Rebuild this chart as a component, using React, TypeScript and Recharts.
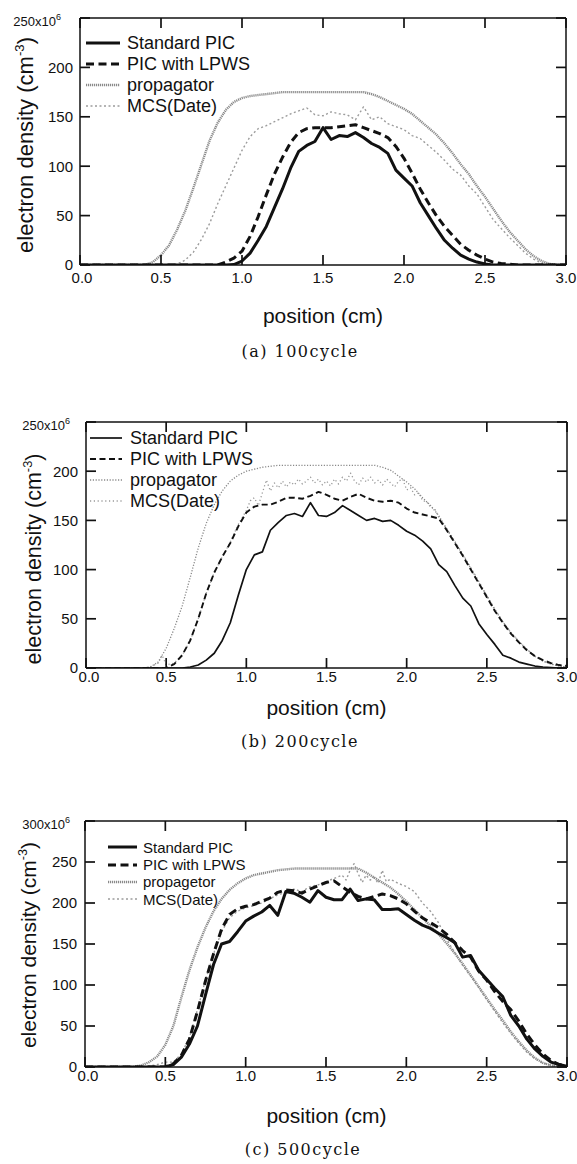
import React from "react";
import { LineChart, Line, XAxis, YAxis, Legend } from "recharts";

const FONT = '"Liberation Sans", Arial, Helvetica, sans-serif';
const SERIF = '"DejaVu Serif", serif';
const INK = "#111";
const TICK_LEN = 10;

// positions (cm) shared by the PIC / propagator curves
const X_GRID = [
  0, 0.05, 0.1, 0.15, 0.2, 0.25, 0.3, 0.35, 0.4, 0.45, 0.5, 0.55, 0.6, 0.65, 0.7, 0.75, 0.8, 0.85, 0.9, 0.95,
  1, 1.05, 1.1, 1.15, 1.2, 1.25, 1.3, 1.35, 1.4, 1.45, 1.5, 1.55, 1.6, 1.65, 1.7, 1.75, 1.8, 1.85, 1.9, 1.95,
  2, 2.05, 2.1, 2.15, 2.2, 2.25, 2.3, 2.35, 2.4, 2.45, 2.5, 2.55, 2.6, 2.65, 2.7, 2.75, 2.8, 2.85, 2.9, 2.95, 3,
];
const X_TICKS = [0, 0.5, 1, 1.5, 2, 2.5, 3];
const Y_TICKS_250 = [0, 50, 100, 150, 200, 250];
const Y_TICKS_300 = [0, 50, 100, 150, 200, 250, 300];

// (a) 100cycle, values in 1e6 cm^-3
const A_STD = [
  0, 0, 0, 0, 0, 0, 0, 0, 0, 0, 0, 0, 0, 0, 0, 0, 0, 0, 0, 0.5,
  4, 12, 25, 39, 58, 77, 98, 115, 121, 125, 139, 127, 131, 130, 134, 129, 123, 119, 113, 96,
  88, 80, 63, 50, 37, 25, 17, 10, 6, 3, 1, 0, 0, 0, 0, 0, 0, 0, 0, 0, 0,
];
const A_LPWS = [
  0, 0, 0, 0, 0, 0, 0, 0, 0, 0, 0, 0, 0, 0, 0, 0, 0, 0, 3, 7,
  14, 29, 49, 71, 92, 109, 124, 134, 138, 139, 139, 139, 140, 141, 142, 139, 136, 133, 129, 120,
  108, 93, 77, 63, 50, 39, 30, 21, 15, 10, 6, 3, 1.5, 1, 0, 0, 0, 0, 0, 0, 0,
];
const A_PROP = [
  0, 0, 0, 0, 0, 0, 0, 0, 0, 3, 10, 20, 36, 55, 78, 102, 126, 144, 157, 165,
  169, 171, 172, 173, 174, 175, 175, 175, 175, 175, 175, 175, 175, 175, 175, 175, 173, 170, 166, 162,
  158, 153, 146, 139, 132, 123, 113, 102, 92, 80, 69, 57, 45, 34, 25, 16, 9, 4, 1, 0, 0,
];
const A_MCS = [
  0, 0, 0, 0, 0, 0, 0, 0, 0, 0, 0, 0, 1, 5, 13, 26, 42, 62, 80, 98,
  116, 130, 138, 141, 145, 149, 153, 156, 159, 152, 151, 155, 153, 152, 147, 160, 147, 150, 143, 140,
  137, 131, 128, 121, 114, 106, 97, 91, 80, 72, 59, 46, 37, 28, 20, 12, 6, 2, 0, 0, 0,
];

// (b) 200cycle
const B_STD = [
  0, 0, 0, 0, 0, 0, 0, 0, 0, 0, 0, 0, 0, 1, 3, 8, 15, 28, 46, 74,
  100, 115, 118, 140, 148, 155, 157, 154, 168, 155, 154, 158, 165, 160, 155, 150, 152, 149, 150, 145,
  139, 135, 129, 121, 105, 98, 84, 71, 63, 45, 34, 24, 13, 10, 6, 4, 2, 1, 0.5, 0, 0,
];
const B_LPWS = [
  0, 0, 0, 0, 0, 0, 0, 0, 0, 0, 0, 4, 13, 28, 50, 76, 97, 113, 127, 144,
  158, 164, 166, 166, 169, 173, 173, 172, 175, 179, 176, 172, 170, 174, 177, 173, 170, 169, 170, 168,
  162, 158, 156, 154, 152, 140, 127, 114, 100, 86, 72, 58, 46, 35, 26, 18, 12, 8, 5, 3, 2,
];
const B_PROP = [
  0, 0, 0, 0, 0, 0, 0, 0, 1, 6, 20, 40, 63, 92, 122, 147, 166, 180, 190, 196,
  200, 202, 204, 205, 206, 206, 206, 206, 206, 206, 206, 206, 206, 206, 206, 206, 206, 204, 201, 195,
  189, 182, 173, 165, 155, 141, 128, 115, 101, 87, 73, 59, 47, 36, 27, 19, 12, 7, 4, 2, 1,
];
const B_MCS_X = [
  0, 0.05, 0.1, 0.15, 0.2, 0.25, 0.3, 0.35, 0.4, 0.45, 0.475, 0.5, 0.55, 0.6, 0.65, 0.7, 0.75, 0.8, 0.85, 0.9, 0.95, 1,
  1.025, 1.05, 1.075, 1.1, 1.125, 1.15, 1.175, 1.2, 1.225, 1.25, 1.275, 1.3, 1.325, 1.35, 1.375, 1.4, 1.425, 1.45,
  1.475, 1.5, 1.525, 1.55, 1.575, 1.6, 1.625, 1.65, 1.675, 1.7, 1.725, 1.75, 1.775, 1.8, 1.825, 1.85, 1.875, 1.9,
  1.925, 1.95, 1.975, 2, 2.025, 2.05, 2.075, 2.1, 2.125, 2.15, 2.175, 2.2,
  2.25, 2.3, 2.35, 2.4, 2.45, 2.5, 2.55, 2.6, 2.65, 2.7, 2.75, 2.8, 2.85, 2.9, 2.95, 3,
];
const B_MCS = [
  0, 0, 0, 0, 0, 0, 0, 0, 1, 5, 13, 3, 5, 13, 28, 50, 76, 97, 113, 128, 146, 160,
  170, 173, 165, 178, 191, 180, 188, 183, 190, 184, 189, 186, 192, 187, 190, 194, 188, 192,
  186, 190, 185, 192, 187, 194, 190, 198, 190, 186, 193, 189, 194, 188, 191, 186, 192, 188,
  184, 190, 192, 181, 183, 176, 178, 170, 169, 163, 162, 153,
  142, 129, 116, 102, 88, 74, 60, 47, 36, 27, 19, 12, 7, 4, 2, 1,
];

// (c) 500cycle
const C_STD = [
  0, 0, 0, 0, 0, 0, 0, 0, 0, 0, 0, 3, 12, 28, 50, 88, 125, 150, 153, 165,
  178, 184, 189, 197, 185, 214, 212, 207, 201, 215, 207, 204, 204, 217, 203, 205, 204, 192, 192, 193,
  186, 179, 173, 169, 163, 158, 152, 134, 136, 118, 107, 96, 86, 63, 50, 34, 22, 13, 6, 3, 1,
];
const C_LPWS = [
  0, 0, 0, 0, 0, 0, 0, 0, 0, 0, 0, 4, 14, 34, 68, 105, 138, 168, 186, 193,
  196, 198, 202, 206, 213, 216, 215, 212, 217, 221, 225, 227, 220, 213, 208, 205, 208, 211, 209, 205,
  199, 190, 182, 176, 170, 162, 152, 142, 134, 117, 106, 92, 80, 70, 56, 40, 27, 16, 8, 3, 1,
];
const C_PROP = [
  0, 0, 0, 0, 0, 0, 0, 2, 6, 13, 27, 50, 85, 118, 146, 170, 190, 205, 216, 224,
  230, 234, 236, 238, 240, 241, 242, 242, 242, 242, 242, 242, 242, 242, 242, 237, 231, 225, 219, 211,
  202, 192, 182, 172, 162, 151, 139, 126, 112, 98, 84, 70, 57, 43, 31, 20, 11, 5, 2, 0, 0,
];
const C_MCS_X = [
  0, 0.05, 0.1, 0.15, 0.2, 0.25, 0.3, 0.35, 0.4, 0.45, 0.5, 0.55, 0.6, 0.65, 0.7, 0.75, 0.8, 0.85, 0.9, 0.95,
  1, 1.05, 1.1, 1.15, 1.2, 1.25, 1.3, 1.35, 1.4, 1.45, 1.5, 1.55, 1.6,
  1.625, 1.65, 1.675, 1.7, 1.725, 1.75, 1.775, 1.8, 1.825, 1.85, 1.875, 1.9,
  1.95, 2, 2.05, 2.1, 2.15, 2.2, 2.25, 2.3, 2.35, 2.4, 2.45, 2.5, 2.55, 2.6, 2.65, 2.7, 2.75, 2.8, 2.85, 2.9, 2.95, 3,
];
const C_MCS = [
  0, 0, 0, 0, 0, 0, 0, 0, 1, 3, 6, 6, 16, 36, 70, 106, 138, 165, 182, 190,
  194, 197, 200, 205, 210, 213, 217, 214, 220, 222, 226, 230, 234,
  228, 240, 248, 236, 225, 234, 228, 231, 224, 240, 226, 229,
  224, 220, 214, 200, 190, 176, 156, 140, 124, 111, 97, 82, 68, 54, 41, 29, 18, 10, 5, 2, 0, 0,
];

type LineStyle = { stroke: string; width: number; dash?: string };
type Series = { name: string; xs: number[]; ys: number[]; style: LineStyle };
type Place = { cx: number; cy: number; size: number };

type PanelCfg = {
  top: number;
  height: number;
  marginTop: number;
  right: number;
  yAxisW: number;
  xAxisH: number;
  yMax: number;
  yTicks: number[];
  topLabel: string;
  topLabelDx: number;
  yGap: number;
  xLabelDy: number;
  zeroDx: number;
  tickFont: number;
  legend: { left: number; top: number; font: number; rowH: number; lineW: number; gap: number };
  series: Series[];
  xTitle: Place;
  yTitle: Place;
  caption: { text: string; cx: number; cy: number };
};

const thick = (a: number[], b: number[], p: number[], m: number[], mx: number[], propName: string): Series[] => [
  { name: "Standard PIC", xs: X_GRID, ys: a, style: { stroke: INK, width: 3 } },
  { name: "PIC with LPWS", xs: X_GRID, ys: b, style: { stroke: INK, width: 3, dash: "8 4.5" } },
  { name: propName, xs: X_GRID, ys: p, style: { stroke: "#8a8a8a", width: 2.4, dash: "1.2 0.8" } },
  { name: "MCS(Date)", xs: mx, ys: m, style: { stroke: "#9c9c9c", width: 1.4, dash: "2 2.5" } },
];

// marginTop / right already leave 1px for the (label-less) top and right axes
const PANELS: PanelCfg[] = [
  {
    top: 0,
    height: 290,
    marginTop: 17,
    right: 10,
    yAxisW: 80,
    xAxisH: 25,
    yMax: 250,
    yTicks: Y_TICKS_250,
    topLabel: "250x10",
    topLabelDx: -19,
    yGap: 7,
    xLabelDy: 17.5,
    zeroDx: 2,
    tickFont: 15,
    legend: { left: 86, top: 32, font: 18, rowH: 21.2, lineW: 34, gap: 7 },
    series: thick(A_STD, A_LPWS, A_PROP, A_MCS, X_GRID, "propagator"),
    xTitle: { cx: 323, cy: 315, size: 21 },
    yTitle: { cx: 26, cy: 145, size: 22 },
    caption: { text: "(a) 100cycle", cx: 300, cy: 352 },
  },
  {
    top: 400,
    height: 288,
    marginTop: 21,
    right: 9,
    yAxisW: 86,
    xAxisH: 20,
    yMax: 250,
    yTicks: Y_TICKS_250,
    topLabel: "250x10",
    topLabelDx: -16,
    yGap: 8,
    xLabelDy: 13.5,
    zeroDx: 3,
    tickFont: 15,
    legend: { left: 90, top: 27, font: 18, rowH: 21, lineW: 32, gap: 8 },
    series: [
      { name: "Standard PIC", xs: X_GRID, ys: B_STD, style: { stroke: INK, width: 1.7 } },
      { name: "PIC with LPWS", xs: X_GRID, ys: B_LPWS, style: { stroke: INK, width: 1.9, dash: "6 3.5" } },
      { name: "propagator", xs: X_GRID, ys: B_PROP, style: { stroke: "#8a8a8a", width: 1.3, dash: "1.2 1.6" } },
      { name: "MCS(Date)", xs: B_MCS_X, ys: B_MCS, style: { stroke: "#999", width: 1.3, dash: "1.2 2.6" } },
    ],
    xTitle: { cx: 326.5, cy: 707, size: 21 },
    yTitle: { cx: 35, cy: 559, size: 21.5 },
    caption: { text: "(b) 200cycle", cx: 300, cy: 742 },
  },
  {
    top: 800,
    height: 287,
    marginTop: 20,
    right: 9,
    yAxisW: 85,
    xAxisH: 20,
    yMax: 300,
    yTicks: Y_TICKS_300,
    topLabel: "300x10",
    topLabelDx: -15,
    yGap: 8,
    xLabelDy: 13.5,
    zeroDx: 3,
    tickFont: 15,
    legend: { left: 108, top: 38.6, font: 15, rowH: 17.3, lineW: 29, gap: 6 },
    series: thick(C_STD, C_LPWS, C_PROP, C_MCS, C_MCS_X, "propagetor"),
    xTitle: { cx: 326.5, cy: 1115, size: 21 },
    yTitle: { cx: 28, cy: 945, size: 21 },
    caption: { text: "(c) 500cycle", cx: 303, cy: 1150 },
  },
];

const TICK_LINE = { stroke: INK, strokeWidth: 1.7 };
const AXIS_LINE = { stroke: INK, strokeWidth: 1.5 };

function Panel({ cfg }: { cfg: PanelCfg }) {
  const lg = cfg.legend;

  // tickSize is negative so the tick marks point into the plot; x/y here sit at the inner end of the mark
  const leftTick = (props: any) => {
    const { x, y, payload } = props;
    const ax = x - TICK_LEN;
    if (payload.value === cfg.yMax) {
      return (
        <text x={ax + cfg.topLabelDx} y={y + 7.5} textAnchor="end" fontSize={13} fill={INK} fontFamily={FONT}>
          {cfg.topLabel}
          <tspan dy={-6} fontSize={9}>6</tspan>
        </text>
      );
    }
    return (
      <text x={ax - cfg.yGap} y={y} dy="0.36em" textAnchor="end" fontSize={cfg.tickFont} fill={INK} fontFamily={FONT}>
        {payload.value}
      </text>
    );
  };

  const bottomTick = (props: any) => {
    const { x, y, payload } = props;
    const ay = y + TICK_LEN;
    return (
      <text
        x={x + (payload.value === 0 ? cfg.zeroDx : 0)}
        y={ay + cfg.xLabelDy}
        textAnchor="middle"
        fontSize={cfg.tickFont}
        fill={INK}
        fontFamily={FONT}
      >
        {Number(payload.value).toFixed(1)}
      </text>
    );
  };

  const noLabel = () => <g />;

  const renderLegend = () => (
    <div style={{ fontFamily: FONT, fontSize: lg.font, color: INK }}>
      {cfg.series.map((s) => (
        <div key={s.name} style={{ display: "flex", alignItems: "center", height: lg.rowH, whiteSpace: "nowrap" }}>
          <svg width={lg.lineW} height={6} style={{ display: "block" }}>
            <line x1={0} x2={lg.lineW} y1={3} y2={3} stroke={s.style.stroke} strokeWidth={s.style.width} strokeDasharray={s.style.dash} />
          </svg>
          <span style={{ marginLeft: lg.gap, lineHeight: 1 }}>{s.name}</span>
        </div>
      ))}
    </div>
  );

  const drawOrder = [...cfg.series].reverse();
  const frameData = cfg.series[0].xs.map((x, i) => ({ x, y: cfg.series[0].ys[i] }));

  return (
    <>
      <div style={{ position: "absolute", left: 0, top: cfg.top }}>
        <LineChart width={577} height={cfg.height} margin={{ top: cfg.marginTop, right: cfg.right, bottom: 0, left: 0 }}>
          <XAxis
            xAxisId="b"
            dataKey="x"
            type="number"
            domain={[0, 3]}
            ticks={X_TICKS}
            interval={0}
            allowDataOverflow
            height={cfg.xAxisH}
            tickSize={-TICK_LEN}
            tickMargin={0}
            stroke={INK}
            tickLine={TICK_LINE}
            axisLine={AXIS_LINE}
            tick={bottomTick}
          />
          <XAxis
            xAxisId="t"
            dataKey="x"
            orientation="top"
            type="number"
            domain={[0, 3]}
            ticks={X_TICKS}
            interval={0}
            allowDataOverflow
            height={1}
            tickSize={-TICK_LEN}
            tickMargin={0}
            stroke={INK}
            tickLine={TICK_LINE}
            axisLine={AXIS_LINE}
            tick={noLabel}
          />
          <YAxis
            yAxisId="l"
            type="number"
            domain={[0, cfg.yMax]}
            ticks={cfg.yTicks}
            interval={0}
            allowDataOverflow
            width={cfg.yAxisW}
            tickSize={-TICK_LEN}
            tickMargin={0}
            stroke={INK}
            tickLine={TICK_LINE}
            axisLine={AXIS_LINE}
            tick={leftTick}
          />
          <YAxis
            yAxisId="r"
            orientation="right"
            type="number"
            domain={[0, cfg.yMax]}
            ticks={cfg.yTicks}
            interval={0}
            allowDataOverflow
            width={1}
            tickSize={-TICK_LEN}
            tickMargin={0}
            stroke={INK}
            tickLine={TICK_LINE}
            axisLine={AXIS_LINE}
            tick={noLabel}
          />
          {/* invisible copy on the top/right axes so those frame axes get a scale and draw their tick marks */}
          <Line
            xAxisId="t"
            yAxisId="r"
            data={frameData}
            dataKey="y"
            stroke="none"
            strokeWidth={0}
            dot={false}
            activeDot={false}
            legendType="none"
            isAnimationActive={false}
          />
          {drawOrder.map((s) => (
            <Line
              key={s.name}
              name={s.name}
              xAxisId="b"
              yAxisId="l"
              data={s.xs.map((x, i) => ({ x, y: s.ys[i] }))}
              dataKey="y"
              type="linear"
              stroke={s.style.stroke}
              strokeWidth={s.style.width}
              strokeDasharray={s.style.dash}
              strokeLinejoin="round"
              dot={false}
              activeDot={false}
              isAnimationActive={false}
            />
          ))}
          <Legend
            content={renderLegend}
            layout="vertical"
            align="center"
            verticalAlign="middle"
            wrapperStyle={{ left: lg.left, top: lg.top, width: "auto", height: "auto" }}
          />
        </LineChart>
      </div>
      <div
        style={{
          position: "absolute",
          left: cfg.xTitle.cx,
          top: cfg.xTitle.cy,
          transform: "translate(-50%, -50%)",
          fontFamily: FONT,
          fontSize: cfg.xTitle.size,
          color: INK,
          whiteSpace: "nowrap",
          lineHeight: 1,
        }}
      >
        position (cm)
      </div>
      <div
        style={{
          position: "absolute",
          left: cfg.yTitle.cx,
          top: cfg.yTitle.cy,
          transform: "translate(-50%, -50%) rotate(-90deg)",
          fontFamily: FONT,
          fontSize: cfg.yTitle.size,
          color: INK,
          whiteSpace: "nowrap",
          lineHeight: 1,
        }}
      >
        electron density (cm<sup style={{ fontSize: "0.6em", verticalAlign: "0.7em", lineHeight: 0 }}>-3</sup>)
      </div>
      <div
        style={{
          position: "absolute",
          left: cfg.caption.cx,
          top: cfg.caption.cy,
          transform: "translate(-50%, -50%)",
          fontFamily: SERIF,
          fontSize: 16,
          letterSpacing: 1.5,
          color: INK,
          whiteSpace: "nowrap",
          lineHeight: 1,
        }}
      >
        {cfg.caption.text}
      </div>
    </>
  );
}

export default function App() {
  return (
    <div style={{ position: "absolute", left: 0, top: 0, width: 577, height: 1164, background: "#fff", overflow: "hidden" }}>
      {PANELS.map((p) => (
        <Panel key={p.caption.text} cfg={p} />
      ))}
    </div>
  );
}
